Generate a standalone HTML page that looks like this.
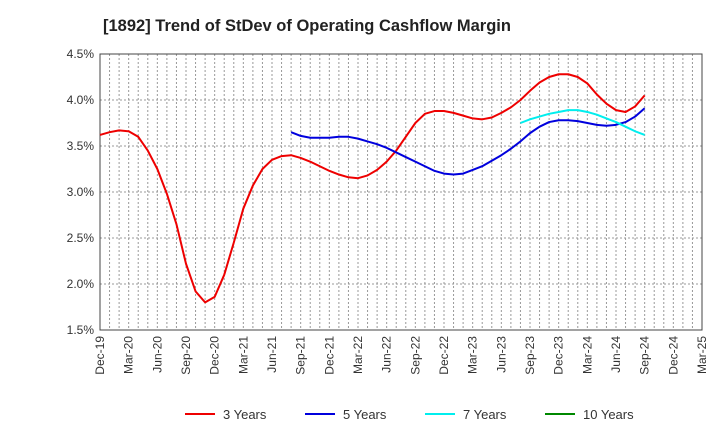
<!DOCTYPE html>
<html><head><meta charset="utf-8"><style>
body{margin:0;background:#fff;font-family:"Liberation Sans",sans-serif}
</style></head><body>
<svg id="c" width="720" height="440" font-family="Liberation Sans, sans-serif"></svg>
<script>
const xLabels=["Dec-19","Mar-20","Jun-20","Sep-20","Dec-20","Mar-21","Jun-21","Sep-21","Dec-21","Mar-22","Jun-22","Sep-22","Dec-22","Mar-23","Jun-23","Sep-23","Dec-23","Mar-24","Jun-24","Sep-24","Dec-24","Mar-25"];
const yTicks=[1.5,2.0,2.5,3.0,3.5,4.0,4.5];
const s3start=0;
const s3=[3.62,3.65,3.67,3.66,3.60,3.45,3.25,2.98,2.65,2.22,1.92,1.80,1.86,2.10,2.45,2.82,3.07,3.25,3.35,3.39,3.40,3.37,3.33,3.28,3.23,3.19,3.16,3.15,3.18,3.24,3.33,3.45,3.60,3.75,3.85,3.88,3.88,3.86,3.83,3.80,3.79,3.81,3.86,3.92,4.00,4.10,4.19,4.25,4.28,4.28,4.25,4.18,4.06,3.96,3.89,3.87,3.93,4.05];
const s5start=20;
const s5=[3.65,3.61,3.59,3.59,3.59,3.60,3.60,3.58,3.55,3.52,3.48,3.43,3.38,3.33,3.28,3.23,3.20,3.19,3.20,3.24,3.28,3.34,3.40,3.47,3.55,3.64,3.71,3.76,3.78,3.78,3.77,3.75,3.73,3.72,3.73,3.76,3.82,3.91];
const s7start=44;
const s7=[3.75,3.79,3.82,3.85,3.87,3.89,3.89,3.87,3.84,3.80,3.76,3.71,3.66,3.62];
const s10=[];
const L=100,R=702,T=54,B=330,months=63;
const X=m=>L+(R-L)*m/months, Y=v=>B-(v-1.5)/3*(B-T);
const svg=document.getElementById('c');const NS='http://www.w3.org/2000/svg';
function mk(t,a,p){const e=document.createElementNS(NS,t);for(const k in a)e.setAttribute(k,a[k]);(p||svg).appendChild(e);return e;}
let t=mk('text',{x:103,y:31,'text-anchor':'start','font-size':16.5,'font-weight':'bold',fill:'#222'});t.textContent='[1892]  Trend of StDev of Operating Cashflow Margin';

for(let m=1;m<months;m++){let l=mk('line',{x1:X(m),x2:X(m),y1:T,y2:B,stroke:'#999','stroke-dasharray':'2,2','stroke-width':1});
}
yTicks.forEach(v=>{let l=mk('line',{x1:L,x2:R,y1:Y(v),y2:Y(v),stroke:'#999','stroke-dasharray':'2,2'});

let tx=mk('text',{x:L-6,y:Y(v)+4,'text-anchor':'end','font-size':12,fill:'#333'});tx.textContent=v.toFixed(1)+'%';
});
let fr=mk('rect',{x:L,y:T,width:R-L,height:B-T,fill:'none',stroke:'#444'});

xLabels.forEach((s,i)=>{const x=X(i*3);let tx=mk('text',{x:x+4,y:B+6,'text-anchor':'end','font-size':12,fill:'#333',transform:`rotate(-90 ${x+4} ${B+6})`});tx.textContent=s;
});
function line(d,st,c,n){if(!d.length)return;let p=mk('polyline',{points:d.map((v,i)=>X(st+i)+','+Y(v)).join(' '),fill:'none',stroke:c,'stroke-width':2,'stroke-linejoin':'round'});
}
line(s3,s3start,'#ee0000','line-3-years');line(s5,s5start,'#0000dd','line-5-years');line(s7,s7start,'#00eeee','line-7-years');line(s10,0,'#008800','line-10-years');
[['3 Years','#ee0000',185],['5 Years','#0000dd',305],['7 Years','#00eeee',425],['10 Years','#008800',545]].forEach(([n,c,x])=>{
let g=mk('g',{});
mk('line',{x1:x,x2:x+30,y1:414,y2:414,stroke:c,'stroke-width':2},g);
let tx=mk('text',{x:x+38,y:419,'font-size':13,fill:'#333'},g);tx.textContent=n;});
</script></body></html>
